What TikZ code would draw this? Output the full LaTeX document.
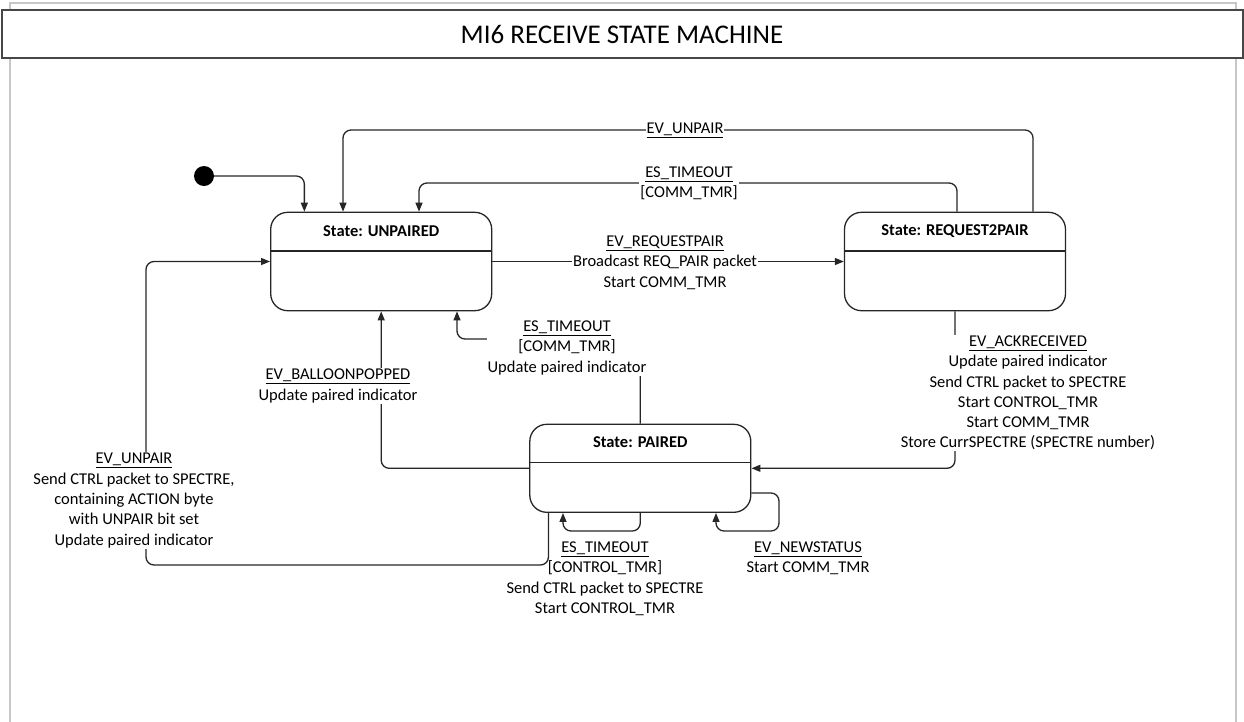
\documentclass[tikz,border=0pt]{standalone}
\usepackage{fontspec}
\setmainfont{Carlito}
\usetikzlibrary{arrows.meta,calc}
\begin{document}
\begin{tikzpicture}[x=1pt,y=-1pt,
  conn/.style={draw=black!85, line width=1.3pt, rounded corners=8pt},
  arr/.style={conn, -{Triangle[length=9pt,width=7pt]}},
  statebox/.style={draw=black!85, line width=1.3pt, rounded corners=17pt, minimum width=221pt, inner sep=0pt},
  lbl/.style={font=\fontsize{16.5}{20.3}\selectfont, align=center, fill=white, inner sep=1pt},
  lblnf/.style={font=\fontsize{16.5}{20.3}\selectfont, align=center, inner sep=1pt},
  sname/.style={font=\fontsize{16.5}{20}\selectfont\bfseries, inner sep=0pt}
]
\useasboundingbox (0,0) rectangle (1244,721);
% outer frame
\draw[draw=black!22, line width=2pt] (9.5,730) -- (9.5,3) -- (1235.5,3) -- (1235.5,730);
% title
\node[draw=black!72, line width=2pt, fill=white, minimum width=1241pt, minimum height=48pt,
      font=\fontsize{27}{30}\selectfont] (title) at (622,34) {MI6 RECEIVE STATE MACHINE};

% states
\node[statebox, minimum height=98.4pt] (unp) at (381.2,261.5) {};
\draw[conn] ([yshift=-39.4pt]unp.north west) -- ([yshift=-39.4pt]unp.north east);
\node[sname] (unpT) at ([yshift=-19.6pt]unp.north) {State: UNPAIRED};

\node[statebox, minimum height=98.4pt] (r2p) at (955,261.5) {};
\draw[conn] ([yshift=-39.4pt]r2p.north west) -- ([yshift=-39.4pt]r2p.north east);
\node[sname] (r2pT) at ([yshift=-19.6pt]r2p.north) {State: REQUEST2PAIR};

\node[statebox, minimum height=88pt] (par) at (640.3,468.3) {};
\draw[conn] ([yshift=-39pt]par.north west) -- ([yshift=-39pt]par.north east);
\node[sname] (parT) at ([yshift=-18.4pt]par.north) {State: PAIRED};

% initial state
\node[circle, fill=black, minimum size=20pt, inner sep=0pt] (init) at (204,176) {};
\draw[arr] (init.east) -| ([xshift=34.3pt]unp.north west);

% EV_UNPAIR (top)
\coordinate (u1) at (1033,130);
\coordinate (u2) at (343,130);
\draw[arr] (r2p.north -| u1) -- (u1) -- (u2) -- (unp.north -| u2);
\node[lbl] (lU) at (685,130) {\underline{EV\_UNPAIR}};

% ES_TIMEOUT [COMM_TMR] (top)
\coordinate (t1) at (957,183);
\coordinate (t2) at (419,183);
\draw[arr] (r2p.north -| t1) -- (t1) -- (t2) -- (unp.north -| t2);
\node[lbl] (lT) at (689,183) {\underline{ES\_TIMEOUT}\\{}[COMM\_TMR]};

% EV_REQUESTPAIR
\draw[arr] (unp.east) -- (r2p.west);
\node[lbl] (lR) at (665,262.5) {\underline{EV\_REQUESTPAIR}\\Broadcast REQ\_PAIR packet\\Start COMM\_TMR};

% EV_ACKRECEIVED
\draw[arr] (r2p.south) |- (par.east);
\node[lbl] (lA) at (1028,393) {\underline{EV\_ACKRECEIVED}\\Update paired indicator\\Send CTRL packet to SPECTRE\\Start CONTROL\_TMR\\Start COMM\_TMR\\Store CurrSPECTRE (SPECTRE number)};

% ES_TIMEOUT [COMM_TMR] paired -> unpaired
\coordinate (c1) at (457,339);
\draw[arr] (par.north) |- (c1) -- (unp.south -| c1);
\node[lbl] (lC) at (567,347.7) {\underline{ES\_TIMEOUT}\\{}[COMM\_TMR]\\Update paired indicator};

% EV_BALLOONPOPPED
\draw[arr] (par.west) -| (unp.south);
\node[lbl] (lB) at (338,386) {\underline{EV\_BALLOONPOPPED}\\Update paired indicator};

% EV_UNPAIR (left)
\coordinate (d1) at (146,565);
\draw[arr] ([xshift=19.3pt]par.south west) |- (d1) |- (unp.west);
\node[lbl] (lL) at (134,500.6) {\underline{EV\_UNPAIR}\\Send CTRL packet to SPECTRE,\\containing ACTION byte\\with UNPAIR bit set\\Update paired indicator};

% ES_TIMEOUT [CONTROL_TMR] self loop
\coordinate (e1) at (563,531);
\draw[arr] (par.south) |- (e1) -- (par.south -| e1);
\node[lblnf] (lS) at (605,578.7) {\underline{ES\_TIMEOUT}\\{}[CONTROL\_TMR]\\Send CTRL packet to SPECTRE\\Start CONTROL\_TMR};

% EV_NEWSTATUS self loop
\coordinate (n1) at (779,493);
\coordinate (n2) at (716,531);
\draw[arr] ([yshift=-24.7pt]par.east) -- (n1) |- (n2) -- (par.south -| n2);
\node[lblnf] (lN) at (808,558.5) {\underline{EV\_NEWSTATUS}\\Start COMM\_TMR};
\end{tikzpicture}
\end{document}
